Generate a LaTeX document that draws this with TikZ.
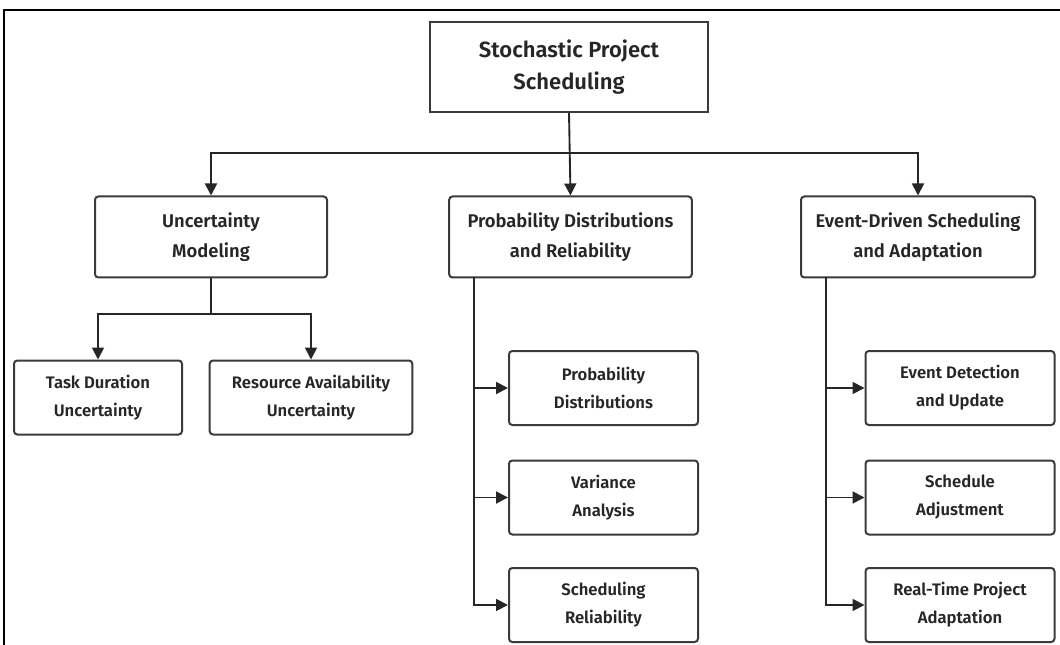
\documentclass[tikz,border=0pt]{standalone}
\usepackage{fontspec}
\setmainfont{Fira Sans}[UprightFont=* SemiBold]
\usetikzlibrary{arrows.meta}
\definecolor{ink}{HTML}{262626}
\definecolor{edge}{HTML}{3A3A3A}
\begin{document}
\begin{tikzpicture}[x=0.75pt,y=-0.75pt,
  box/.style={draw=edge,line width=1.5pt,rounded corners=2.5pt,fill=white,
    align=center,text=ink,inner sep=0pt},
  rootbox/.style={box,minimum width=208.5pt,minimum height=67.5pt,font=\fontsize{16.5}{24}\selectfont},
  midbox/.style={box,minimum height=60.75pt,font=\fontsize{13.8}{23}\selectfont},
  leafbox/.style={box,minimum height=55.5pt,font=\fontsize{12.5}{21}\selectfont},
  link/.style={draw=ink,line width=1.4pt},
  arr/.style={link,-{Triangle[length=9pt,width=9pt]}}]
\useasboundingbox (0,0) rectangle (1060,645);
% frame
\draw[black,line width=1.2pt] (4,650) -- (4,10) -- (1065,10);

% nodes
\node[rootbox,rounded corners=0pt] (root) at (569,67) {Stochastic Project\\Scheduling};
\node[midbox,minimum width=174pt] (um) at (211,237) {Uncertainty\\Modeling};
\node[midbox,minimum width=182pt] (pd) at (570.5,237) {Probability Distributions\\and Reliability};
\node[midbox,minimum width=175.5pt] (ed) at (918,237) {Event-Driven Scheduling\\and Adaptation};

\node[leafbox,minimum width=126pt] (td) at (98,397.5) {Task Duration\\Uncertainty};
\node[leafbox,minimum width=152pt] (ra) at (311,397.5) {Resource Availability\\Uncertainty};

\node[leafbox,minimum width=141.75pt] (p1) at (603.5,388) {Probability\\Distributions};
\node[leafbox,minimum width=141.75pt] (p2) at (603.5,497.5) {Variance\\Analysis};
\node[leafbox,minimum width=141.75pt] (p3) at (603.5,605) {Scheduling\\Reliability};

\node[leafbox,minimum width=141.75pt] (e1) at (960,388) {Event Detection\\and Update};
\node[leafbox,minimum width=141.75pt] (e2) at (960,497.5) {Schedule\\Adjustment};
\node[leafbox,minimum width=141.75pt] (e3) at (960,605) {Real-Time Project\\Adaptation};

% junction points
\coordinate (j0) at (569,153);
\coordinate (j1) at (211,314);
\coordinate (pc) at (474,277);
\coordinate (ec) at (826,277);

% top level
\draw[arr] (root.south) -- (pd.north);
\draw[arr] (j0) -| (um.north);
\draw[arr] (j0) -| (ed.north);

% uncertainty branch
\draw[link] (um.south) -- (j1);
\draw[arr] (j1) -| (td.north);
\draw[arr] (j1) -| (ra.north);

% probability column
\draw[arr] (pc) |- (p1.west);
\draw[arr] (pc) |- (p2.west);
\draw[arr] (pc) |- (p3.west);

% event column
\draw[arr] (ec) |- (e1.west);
\draw[arr] (ec) |- (e2.west);
\draw[arr] (ec) |- (e3.west);
\end{tikzpicture}
\end{document}
